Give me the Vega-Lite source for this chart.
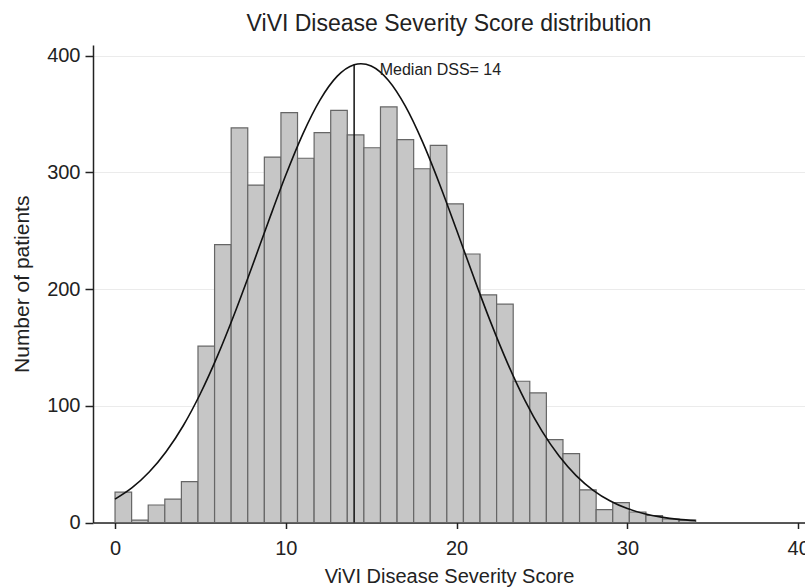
{
  "$schema": "https://vega.github.io/schema/vega-lite/v6.json",
  "width": 712,
  "height": 477.5,
  "autosize": {"type": "none"},
  "padding": {"left": 93, "top": 45, "right": 0, "bottom": 65.5},
  "background": "white",
  "title": {
    "text": "ViVI Disease Severity Score distribution",
    "font": "Liberation Sans",
    "fontSize": 23,
    "fontWeight": "normal",
    "color": "#222222",
    "anchor": "middle",
    "offset": 9
  },
  "config": {
    "view": {"stroke": null},
    "axis": {
      "labelFont": "Liberation Sans",
      "titleFont": "Liberation Sans",
      "labelColor": "#222222",
      "titleColor": "#222222",
      "domainColor": "#222222",
      "tickColor": "#222222",
      "titleFontWeight": "normal",
      "domainWidth": 1.5,
      "tickWidth": 1.5,
      "labelOverlap": false,
      "labelFlush": false
    }
  },
  "datasets": {
    "bins": [
      {"x0": 0.0, "x1": 0.9714, "base": 0, "count": 26},
      {"x0": 0.9714, "x1": 1.9429, "base": 0, "count": 2},
      {"x0": 1.9429, "x1": 2.9143, "base": 0, "count": 15},
      {"x0": 2.9143, "x1": 3.8857, "base": 0, "count": 20},
      {"x0": 3.8857, "x1": 4.8571, "base": 0, "count": 35},
      {"x0": 4.8571, "x1": 5.8286, "base": 0, "count": 151},
      {"x0": 5.8286, "x1": 6.8, "base": 0, "count": 238},
      {"x0": 6.8, "x1": 7.7714, "base": 0, "count": 338},
      {"x0": 7.7714, "x1": 8.7429, "base": 0, "count": 289},
      {"x0": 8.7429, "x1": 9.7143, "base": 0, "count": 313},
      {"x0": 9.7143, "x1": 10.6857, "base": 0, "count": 351},
      {"x0": 10.6857, "x1": 11.6571, "base": 0, "count": 312},
      {"x0": 11.6571, "x1": 12.6286, "base": 0, "count": 334},
      {"x0": 12.6286, "x1": 13.6, "base": 0, "count": 353},
      {"x0": 13.6, "x1": 14.5714, "base": 0, "count": 332},
      {"x0": 14.5714, "x1": 15.5429, "base": 0, "count": 321},
      {"x0": 15.5429, "x1": 16.5143, "base": 0, "count": 356},
      {"x0": 16.5143, "x1": 17.4857, "base": 0, "count": 328},
      {"x0": 17.4857, "x1": 18.4571, "base": 0, "count": 303},
      {"x0": 18.4571, "x1": 19.4286, "base": 0, "count": 323},
      {"x0": 19.4286, "x1": 20.4, "base": 0, "count": 273},
      {"x0": 20.4, "x1": 21.3714, "base": 0, "count": 230},
      {"x0": 21.3714, "x1": 22.3429, "base": 0, "count": 195},
      {"x0": 22.3429, "x1": 23.3143, "base": 0, "count": 187},
      {"x0": 23.3143, "x1": 24.2857, "base": 0, "count": 121},
      {"x0": 24.2857, "x1": 25.2571, "base": 0, "count": 111},
      {"x0": 25.2571, "x1": 26.2286, "base": 0, "count": 71},
      {"x0": 26.2286, "x1": 27.2, "base": 0, "count": 59},
      {"x0": 27.2, "x1": 28.1714, "base": 0, "count": 28},
      {"x0": 28.1714, "x1": 29.1429, "base": 0, "count": 11},
      {"x0": 29.1429, "x1": 30.1143, "base": 0, "count": 17},
      {"x0": 30.1143, "x1": 31.0857, "base": 0, "count": 9},
      {"x0": 31.0857, "x1": 32.0571, "base": 0, "count": 6},
      {"x0": 32.0571, "x1": 33.0286, "base": 0, "count": 3},
      {"x0": 33.0286, "x1": 34.0, "base": 0, "count": 2}
    ],
    "curve": [
      {"x": 0, "y": 20.0},
      {"x": 1, "y": 29.8},
      {"x": 2, "y": 43.2},
      {"x": 3, "y": 60.8},
      {"x": 4, "y": 83.1},
      {"x": 5, "y": 110.5},
      {"x": 6, "y": 142.7},
      {"x": 7, "y": 179.0},
      {"x": 8, "y": 218.2},
      {"x": 9, "y": 258.5},
      {"x": 10, "y": 297.6},
      {"x": 11, "y": 332.9},
      {"x": 12, "y": 361.8},
      {"x": 13, "y": 382.1},
      {"x": 14, "y": 392.1},
      {"x": 14.4, "y": 393.0},
      {"x": 15, "y": 391.0},
      {"x": 16, "y": 378.8},
      {"x": 17, "y": 356.6},
      {"x": 18, "y": 326.2},
      {"x": 19, "y": 290.0},
      {"x": 20, "y": 250.5},
      {"x": 21, "y": 210.2},
      {"x": 22, "y": 171.4},
      {"x": 23, "y": 135.9},
      {"x": 24, "y": 104.6},
      {"x": 25, "y": 78.2},
      {"x": 26, "y": 56.9},
      {"x": 27, "y": 40.2},
      {"x": 28, "y": 27.6},
      {"x": 29, "y": 18.4},
      {"x": 30, "y": 11.9},
      {"x": 31, "y": 7.5},
      {"x": 32, "y": 4.6},
      {"x": 33, "y": 2.7},
      {"x": 34, "y": 1.6}
    ],
    "median": [
      {"x": 14, "y": 392, "base": 0, "label": "Median DSS= 14", "lx": 15.5, "ly": 383.5}
    ]
  },
  "layer": [
    {
      "data": {"name": "bins"},
      "mark": {"type": "rect", "fill": "#c6c6c6", "stroke": "#666666", "strokeWidth": 1.2},
      "encoding": {
        "x": {
          "field": "x0",
          "type": "quantitative",
          "scale": {"domain": [-1.29, 40.4], "nice": false, "zero": false},
          "axis": {
            "values": [0, 10, 20, 30, 40],
            "grid": false,
            "tickSize": 6,
            "labelPadding": 10,
            "labelFontSize": 20,
            "title": "ViVI Disease Severity Score",
            "titleFontSize": 20,
            "titlePadding": 8
          }
        },
        "x2": {"field": "x1"},
        "y": {
          "field": "count",
          "type": "quantitative",
          "scale": {"domain": [0, 409], "nice": false},
          "axis": {
            "values": [0, 100, 200, 300, 400],
            "grid": true,
            "gridColor": "#ebebeb",
            "gridWidth": 1,
            "tickSize": 8,
            "labelPadding": 5,
            "labelFontSize": 20,
            "title": "Number of patients",
            "titleFontSize": 21,
            "titlePadding": 14
          }
        },
        "y2": {"field": "base"}
      }
    },
    {
      "data": {"name": "curve"},
      "mark": {"type": "line", "color": "#111111", "strokeWidth": 1.6, "interpolate": "monotone"},
      "encoding": {
        "x": {"field": "x", "type": "quantitative"},
        "y": {"field": "y", "type": "quantitative"}
      }
    },
    {
      "data": {"name": "median"},
      "mark": {"type": "rule", "color": "#111111", "strokeWidth": 1.5},
      "encoding": {
        "x": {"field": "x", "type": "quantitative"},
        "y": {"field": "y", "type": "quantitative"},
        "y2": {"field": "base"}
      }
    },
    {
      "data": {"name": "median"},
      "mark": {"type": "text", "align": "left", "baseline": "alphabetic", "font": "Liberation Sans", "fontSize": 16, "color": "#222222"},
      "encoding": {
        "x": {"field": "lx", "type": "quantitative"},
        "y": {"field": "ly", "type": "quantitative"},
        "text": {"field": "label"}
      }
    }
  ]
}
